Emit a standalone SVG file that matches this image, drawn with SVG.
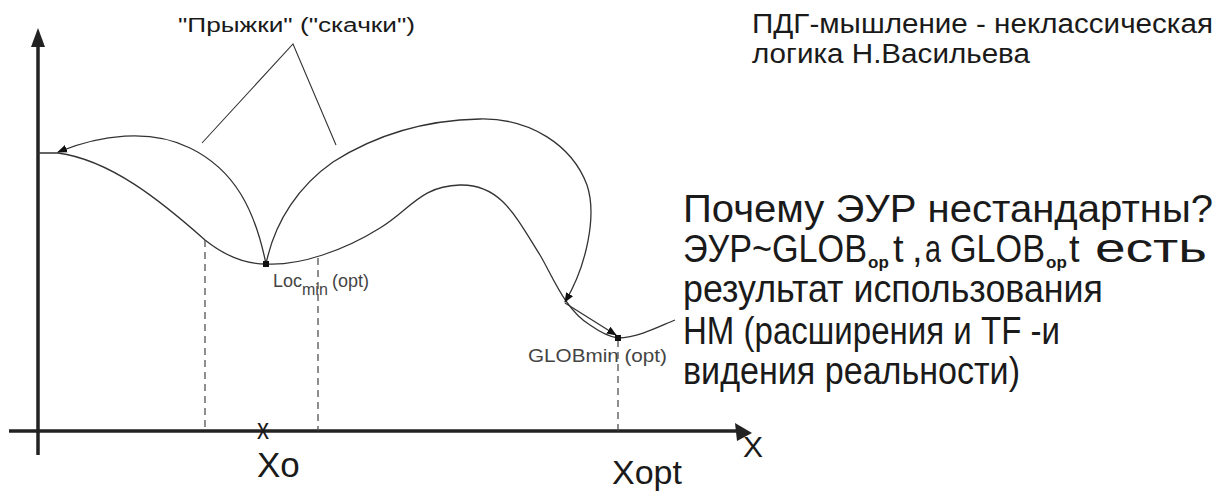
<svg xmlns="http://www.w3.org/2000/svg" width="1230" height="494" viewBox="0 0 1230 494">
<style>
  text { font-family: "Liberation Sans", Arial, sans-serif; fill: #1a1a1a; }
  .curve { fill: none; stroke: #333; stroke-width: 1.3; }
  .axis { stroke: #222; stroke-width: 3.5; fill: none; }
  .dash { stroke: #444; stroke-width: 1.2; stroke-dasharray: 7 5; fill: none; }
  .lead { stroke: #333; stroke-width: 1.1; fill: none; }
  .small { fill: #444; }
  .sub { font-size: 17px; font-weight: bold; }
</style>
<defs>
  <marker id="ah" viewBox="0 0 10 10" refX="9" refY="5" markerWidth="10" markerHeight="10" markerUnits="userSpaceOnUse" orient="auto">
    <path d="M0,1 L10,5 L0,9 Z" fill="#111"/>
  </marker>
</defs>
<rect width="1230" height="494" fill="#fff"/>

<g id="axes">
  <line class="axis" x1="38" y1="455" x2="38" y2="45"/>
  <polygon points="38,28 31,47 45,47" fill="#222"/>
  <line class="axis" x1="9" y1="431" x2="740" y2="431"/>
  <polygon points="752,433 735,423 737,441" fill="#222"/>
</g>

<g id="connectors">
  <path id="curve-left" class="curve" d="M38,153 L58,153 C110,160 160,200 205,240 C225,256 245,264 266,264"/>
  <path id="curve-right" class="curve" d="M266,264 C300,266 345,250 380,228 C410,210 420,186 460,185 C500,184 515,215 540,255 C552,275 565,310 590,325 C600,332 610,337 618,338 C640,337 660,326 675,320"/>
  <path id="jump-left" class="curve" d="M266,264 C255,210 235,170 190,148 C150,128 100,135 58,152" marker-end="url(#ah)"/>
  <path id="jump-right" class="curve" d="M266,264 C275,220 300,185 333,162 C380,132 430,120 480,119 C530,118 572,145 587,185 C597,215 587,265 565,302" marker-end="url(#ah)"/>
  <line id="step" class="curve" x1="565" y1="303" x2="616" y2="335" marker-end="url(#ah)"/>
  <polyline class="lead" points="202,143 293,44 336,145"/>
  <line class="dash" x1="205" y1="240" x2="205" y2="431"/>
  <line class="dash" x1="318" y1="258" x2="318" y2="431"/>
  <line class="dash" x1="618" y1="340" x2="618" y2="431"/>
</g>

<g id="locmin">
  <rect x="263" y="261" width="6" height="6" fill="#111"/>
  <text class="small" x="273" y="287" font-size="18">Loc<tspan font-size="16" dy="8">min</tspan><tspan x="332" dy="-8">(opt)</tspan></text>
</g>

<g id="globmin">
  <rect x="615" y="335" width="6" height="6" fill="#111"/>
  <text class="small" x="528" y="362" font-size="19" textLength="139" lengthAdjust="spacingAndGlyphs">GLOBmin (opt)</text>
</g>

<g id="jumps-label">
  <text x="178" y="32" font-size="20" textLength="237" lengthAdjust="spacingAndGlyphs">"Прыжки" ("скачки")</text>
</g>

<g id="title">
  <text x="752" y="33" font-size="27" textLength="461" lengthAdjust="spacingAndGlyphs">ПДГ-мышление - неклассическая</text>
  <text x="752" y="63" font-size="27" textLength="278" lengthAdjust="spacingAndGlyphs">логика Н.Васильева</text>
</g>

<g id="question">
  <text x="683" y="222" font-size="38" textLength="530" lengthAdjust="spacingAndGlyphs">Почему ЭУР нестандартны?</text>
  <text y="262" font-size="38"><tspan x="683" textLength="184" lengthAdjust="spacingAndGlyphs">ЭУР~GLOB</tspan><tspan class="sub" x="868" dy="6">op</tspan><tspan x="893" dy="-6">t</tspan><tspan x="912">,</tspan><tspan x="925" textLength="16" lengthAdjust="spacingAndGlyphs">a</tspan><tspan x="950" textLength="95" lengthAdjust="spacingAndGlyphs">GLOB</tspan><tspan class="sub" x="1046" dy="6">op</tspan><tspan x="1069" dy="-6">t</tspan><tspan x="1095" textLength="112" lengthAdjust="spacingAndGlyphs" font-size="40">есть</tspan></text>
  <text x="683" y="302" font-size="38" textLength="420" lengthAdjust="spacingAndGlyphs">результат использования</text>
  <text x="683" y="344" font-size="38" textLength="377" lengthAdjust="spacingAndGlyphs">НМ (расширения и TF -и</text>
  <text x="683" y="384" font-size="38" textLength="337" lengthAdjust="spacingAndGlyphs">видения реальности)</text>
</g>

<g id="xlabels">
  <text x="257" y="439" font-size="30" textLength="12" lengthAdjust="spacingAndGlyphs">x</text>
  <text x="257" y="477" font-size="35">Xo</text>
  <text x="612" y="484" font-size="34">Xopt</text>
  <text x="743" y="457" font-size="30">X</text>
</g>
</svg>
